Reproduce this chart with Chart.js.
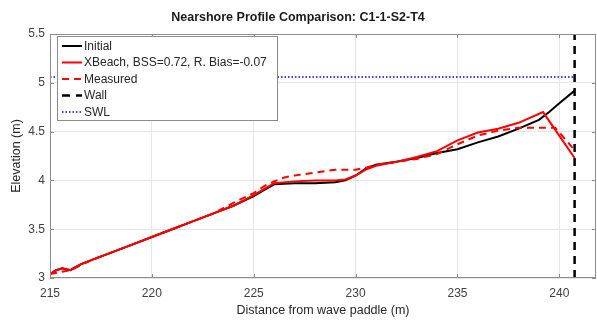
<!DOCTYPE html>
<html>
<head>
<meta charset="utf-8">
<script src="https://cdn.jsdelivr.net/npm/chart.js@4"></script>
<style>
  html, body { margin: 0; padding: 0; background: #fff; }
</style>
</head>
<body>
<canvas id="profileChart" width="597" height="322"></canvas>
<script>
// profile data (distance in m, elevation in m)
const initialX = [215, 215.3, 215.6, 216, 216.5, 217, 218, 219, 220, 221, 222, 223, 224, 225, 225.5, 226, 227, 228, 229, 229.5, 230, 230.5, 231, 232, 233, 234, 235, 236, 237, 238, 239, 239.5, 240, 240.75]
const initialY = [3.04, 3.08, 3.10, 3.08, 3.14, 3.18, 3.26, 3.34, 3.42, 3.50, 3.58, 3.66, 3.74, 3.84, 3.90, 3.96, 3.97, 3.97, 3.98, 4.00, 4.05, 4.12, 4.16, 4.19, 4.23, 4.28, 4.32, 4.39, 4.45, 4.53, 4.62, 4.70, 4.79, 4.92]

const xbeachX = [215, 215.3, 215.6, 216, 216.5, 217, 218, 219, 220, 221, 222, 223, 224, 225, 225.5, 226, 227, 228, 229, 229.5, 230, 230.5, 231, 232, 233, 234, 235, 236, 237, 238, 239.2, 240.75]
const xbeachY = [3.04, 3.08, 3.10, 3.08, 3.14, 3.18, 3.26, 3.34, 3.42, 3.50, 3.58, 3.66, 3.74, 3.85, 3.91, 3.97, 3.99, 4.00, 4.00, 4.01, 4.05, 4.11, 4.15, 4.19, 4.24, 4.30, 4.41, 4.49, 4.53, 4.59, 4.70, 4.23]

const measuredX = [215, 216, 217, 218, 219, 220, 221, 222, 223, 224, 225, 225.5, 226, 226.5, 227, 228, 229, 230, 230.5, 231, 232, 233, 234, 235, 236, 237, 238, 239, 239.8, 240.3, 240.75]
const measuredY = [3.04, 3.08, 3.18, 3.26, 3.34, 3.42, 3.50, 3.58, 3.66, 3.77, 3.87, 3.94, 3.99, 4.03, 4.05, 4.08, 4.11, 4.11, 4.13, 4.16, 4.19, 4.22, 4.27, 4.37, 4.46, 4.51, 4.54, 4.54, 4.54, 4.42, 4.31]

const wallX = [240.75, 240.75]
const wallY = [3, 5.5]
const swlX = [215, 240.75]
const swlY = [5.06, 5.06]

const xTicks = [215, 220, 225, 230, 235, 240]
const yTicks = [3, 3.5, 4, 4.5, 5, 5.5]

const seriesNames = ['Initial', 'XBeach, BSS=0.72, R. Bias=-0.07', 'Measured', 'Wall', 'SWL']

const pts = (xs, ys) => xs.map((x, i) => ({ x: x, y: ys[i] }))

const FONT = '"Liberation Sans", Arial, sans-serif'

// MATLAB style box round the axes
const boxPlugin = {
  id: 'box',
  afterDatasetsDraw(chart) {
    const { ctx, chartArea: a } = chart
    ctx.save()
    ctx.strokeStyle = '#8c8c8c'
    ctx.lineWidth = 1
    ctx.strokeRect(a.left + 0.5, a.top + 0.5, a.right - a.left - 1, a.bottom - a.top - 1)
    // small inward ticks
    ctx.beginPath()
    const xs = chart.scales.x, ys = chart.scales.y
    xTicks.forEach(v => {
      const px = Math.round(xs.getPixelForValue(v)) + 0.5
      ctx.moveTo(px, a.bottom); ctx.lineTo(px, a.bottom - 4)
      ctx.moveTo(px, a.top); ctx.lineTo(px, a.top + 4)
    })
    yTicks.forEach(v => {
      const py = Math.round(ys.getPixelForValue(v)) + 0.5
      ctx.moveTo(a.left, py); ctx.lineTo(a.left + 4, py)
      ctx.moveTo(a.right, py); ctx.lineTo(a.right - 4, py)
    })
    ctx.stroke()
    ctx.restore()
  }
}

// legend drawn inside the axes, top left, like the original figure
const insideLegend = {
  id: 'insideLegend',
  afterDraw(chart) {
    const { ctx } = chart
    const left = 57, top = 36, w = 220, h = 84
    ctx.save()
    ctx.fillStyle = '#fff'
    ctx.fillRect(left, top, w, h)
    ctx.strokeStyle = '#8c8c8c'
    ctx.lineWidth = 1
    ctx.strokeRect(left + 0.5, top + 0.5, w, h)
    ctx.font = '12px ' + FONT
    ctx.textBaseline = 'middle'
    chart.data.datasets.forEach((ds, i) => {
      const y = top + 10 + i * 16.5
      ctx.beginPath()
      ctx.strokeStyle = ds.borderColor
      ctx.lineWidth = ds.borderWidth
      ctx.setLineDash(ds.borderDash || [])
      ctx.moveTo(62, y)
      ctx.lineTo(82, y)
      ctx.stroke()
      ctx.setLineDash([])
      ctx.fillStyle = '#262626'
      ctx.fillText(ds.label, 84, y + 0.5)
    })
    ctx.restore()
  }
}

new Chart(document.getElementById('profileChart'), {
  type: 'line',
  data: {
    datasets: [
      // lower order is painted on top, so later MATLAB series sit above earlier ones
      { label: seriesNames[0], data: pts(initialX, initialY), borderColor: '#000000', borderWidth: 2, order: 4 },
      { label: seriesNames[1], data: pts(xbeachX, xbeachY), borderColor: '#ff0000', borderWidth: 2, order: 3 },
      { label: seriesNames[2], data: pts(measuredX, measuredY), borderColor: '#ff0000', borderWidth: 2, borderDash: [7, 5], order: 2 },
      { label: seriesNames[3], data: pts(wallX, wallY), borderColor: '#000000', borderWidth: 2.5, borderDash: [8, 6], order: 1 },
      { label: seriesNames[4], data: pts(swlX, swlY), borderColor: '#0000ff', borderWidth: 1.5, borderDash: [1.5, 2], order: 0 }
    ]
  },
  options: {
    responsive: false,
    animation: false,
    layout: { padding: { right: 1 } },
    elements: { point: { radius: 0 }, line: { tension: 0 } },
    plugins: {
      legend: { display: false },
      tooltip: { enabled: false },
      title: {
        display: true,
        text: 'Nearshore Profile Comparison: C1-1-S2-T4',
        color: '#1a1a1a',
        font: { family: FONT, size: 12.5, weight: 'bold' },
        padding: { top: 10, bottom: 9 }
      }
    },
    scales: {
      x: {
        type: 'linear',
        min: 215,
        max: 241.8,
        afterBuildTicks: s => { s.ticks = xTicks.map(v => ({ value: v })) },
        afterFit: s => { s.height = 44 },
        grid: { color: '#e6e6e6', drawTicks: false },
        border: { display: false },
        ticks: { color: '#404040', padding: 8, font: { family: FONT, size: 12 }, callback: v => String(v) },
        title: {
          display: true,
          text: 'Distance from wave paddle (m)',
          color: '#262626',
          font: { family: FONT, size: 12.5 },
          padding: { top: 0, bottom: 4 }
        }
      },
      y: {
        min: 3,
        max: 5.5,
        afterBuildTicks: s => { s.ticks = yTicks.map(v => ({ value: v })) },
        afterFit: s => { s.width = 50 },
        grid: { color: '#e6e6e6', drawTicks: false },
        border: { display: false },
        ticks: { color: '#404040', padding: 5, font: { family: FONT, size: 12 }, callback: v => String(v) },
        title: {
          display: true,
          text: 'Elevation (m)',
          color: '#262626',
          font: { family: FONT, size: 12.5 },
          padding: { top: 9, bottom: 0 }
        }
      }
    }
  },
  plugins: [boxPlugin, insideLegend]
})
</script>
</body>
</html>
